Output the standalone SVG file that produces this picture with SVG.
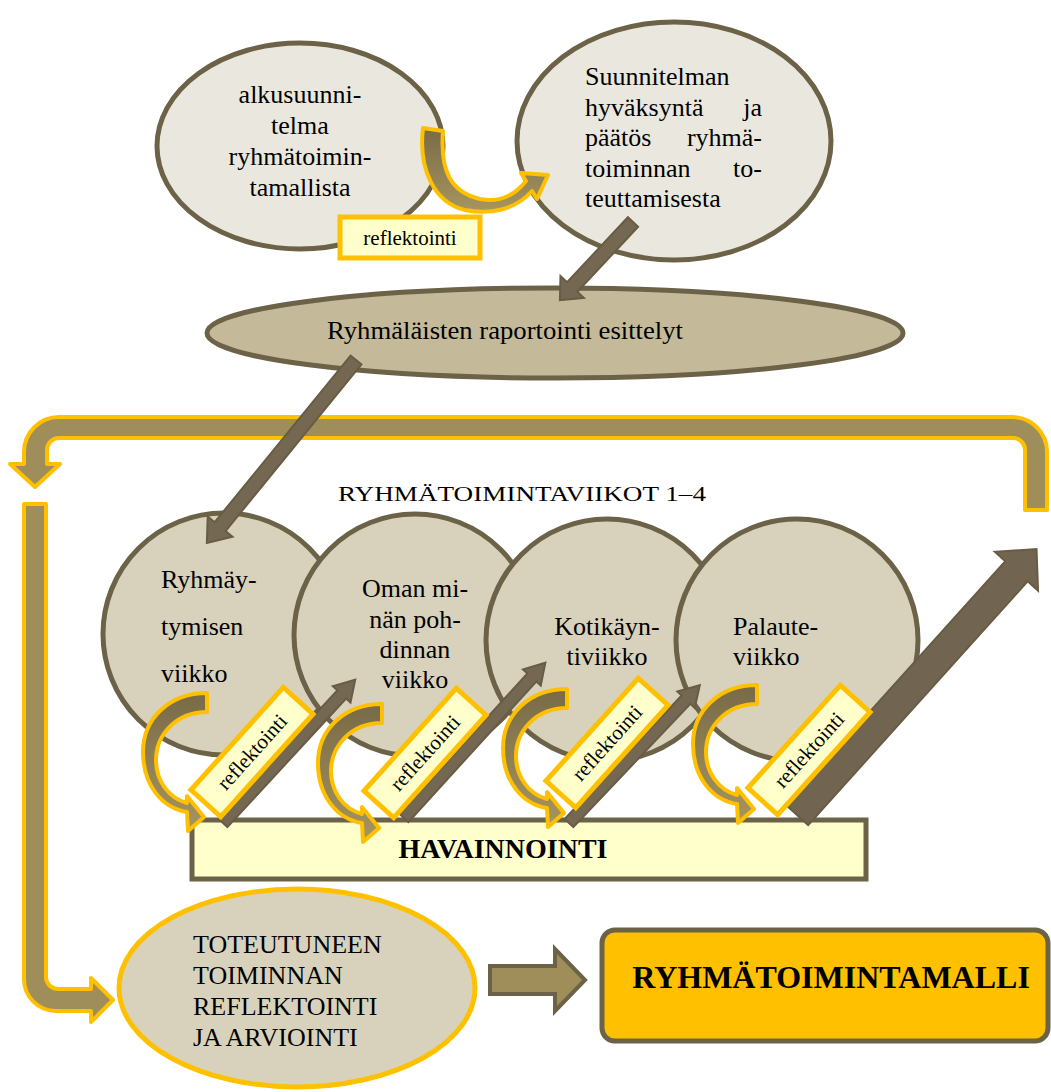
<svg xmlns="http://www.w3.org/2000/svg" width="1051" height="1092" viewBox="0 0 1051 1092" font-family="'Liberation Serif', 'DejaVu Serif', serif">
<defs>
<style>
text{font-family:'Liberation Serif','DejaVu Serif',serif;fill:#000}
.t26{font-size:26px}
.lab{font-size:21px}
.light{fill:#eae8de;stroke:#6b6248;stroke-width:5}
.tan{fill:#c4b998;stroke:#6b6248;stroke-width:5}
.circ{fill:#d8d2bc;stroke:#6b6248;stroke-width:5}
.label{fill:#ffffcc;stroke:#ffc000;stroke-width:5}
.band{fill:#9f8e5a;stroke:#ffc000;stroke-width:4;stroke-linejoin:round}
.dark{fill:#756853;stroke:#685c44;stroke-width:2}
.curv{fill:url(#cg);stroke:#ffc000;stroke-width:4;stroke-linejoin:round}
</style>
<linearGradient id="cg" x1="0" y1="0" x2="0" y2="1">
<stop offset="0" stop-color="#786a47"/>
<stop offset="1" stop-color="#a6955f"/>
</linearGradient>
<path id="curvArrow" d="M 207,693 C 170,693 143,718 143,752 C 143,785 162,808 187,812 L 188,831 L 204,817 L 187,796 L 187,803 C 168,798 156,780 156,760 C 156,735 176,712 207,712 Z"/>
</defs>

<g id="node-alkusuunnitelma">
<ellipse class="light" cx="300" cy="146" rx="143" ry="103"/>
<text class="t26" font-family="Liberation Serif" text-anchor="middle"><tspan x="300" y="103">alkusuunni-</tspan><tspan x="300" y="134">telma</tspan><tspan x="300" y="165">ryhmätoimin-</tspan><tspan x="300" y="196">tamallista</tspan></text>
</g>

<g id="node-suunnitelman">
<ellipse class="light" cx="674" cy="141" rx="157" ry="119"/>
<text class="t26" font-family="Liberation Serif"><tspan x="585" y="85">Suunnitelman</tspan><tspan x="585" y="116">hyväksyntä</tspan><tspan x="585" y="146">päätös</tspan><tspan x="585" y="177">toiminnan</tspan><tspan x="585" y="207">teuttamisesta</tspan></text>
<text class="t26" font-family="Liberation Serif" text-anchor="end"><tspan x="762" y="116">ja</tspan><tspan x="762" y="146">ryhmä-</tspan><tspan x="762" y="177">to-</tspan></text>
</g>

<g id="node-reflektointi-top">
<rect class="label" x="340" y="217" width="140" height="41"/>
<text class="lab" font-family="Liberation Serif" x="410" y="245" text-anchor="middle">reflektointi</text>
</g>

<g id="node-raportointi">
<ellipse class="tan" cx="555" cy="333" rx="348" ry="45"/>
<text class="t26" font-family="Liberation Serif" x="327" y="339" textLength="356" lengthAdjust="spacingAndGlyphs">Ryhmäläisten raportointi esittelyt</text>
</g>

<g id="node-circle1">
<circle class="circ" cx="224" cy="634" r="121"/>
<text class="t26" font-family="Liberation Serif"><tspan x="161" y="588">Ryhmäy-</tspan><tspan x="161" y="635">tymisen</tspan><tspan x="161" y="682">viikko</tspan></text>
</g>
<g id="node-circle2">
<circle class="circ" cx="415" cy="635" r="121"/>
<text class="t26" font-family="Liberation Serif" text-anchor="middle"><tspan x="415" y="597">Oman mi-</tspan><tspan x="415" y="628">nän poh-</tspan><tspan x="415" y="658">dinnan</tspan><tspan x="415" y="688">viikko</tspan></text>
</g>
<g id="node-circle3">
<circle class="circ" cx="607" cy="640" r="121"/>
<text class="t26" font-family="Liberation Serif" text-anchor="middle"><tspan x="607" y="635">Kotikäyn-</tspan><tspan x="607" y="665">tiviikko</tspan></text>
</g>
<g id="node-circle4">
<circle class="circ" cx="797" cy="640" r="121"/>
<text class="t26" font-family="Liberation Serif"><tspan x="733" y="635">Palaute-</tspan><tspan x="733" y="665">viikko</tspan></text>
</g>

<g id="node-havainnointi">
<rect x="192" y="820" width="674" height="59" fill="#ffffcc" stroke="#6b6248" stroke-width="5"/>
<text font-family="Liberation Serif" x="503" y="858" text-anchor="middle" font-size="28" font-weight="bold">HAVAINNOINTI</text>
</g>

<g id="node-viikot-title">
<text font-family="Liberation Serif" x="338" y="501" font-size="22" textLength="368" lengthAdjust="spacingAndGlyphs">RYHMÄTOIMINTAVIIKOT 1–4</text>
</g>

<g id="connectors">
<path class="curv" d="M 423,128 L 443,131 C 440,170 450,192 480,199 C 500,203 515,195 526,181 L 521,173 L 548,175 L 537,199 L 532,191 C 515,210 490,215 465,210 C 435,203 418,170 423,128 Z"/>
<polygon class="dark" transform="translate(633,222) rotate(133.1)" points="0,-7 89,-7 89,-16 107,0 89,16 89,7 0,7"/>
<path class="band" d="M 1047,510 L 1047,452 A 35,35 0 0 0 1012,417 L 59,417 A 35,35 0 0 0 24,452 L 24,464 L 10,464 L 35,487 L 60,464 L 47,464 L 47,450 A 12,12 0 0 1 59,438 L 1013,438 A 12,12 0 0 1 1025,450 L 1025,510 Z"/>
<polygon class="dark" transform="translate(356,360) rotate(129.2)" points="0,-7 215,-7 215,-16 236,0 215,16 215,7 0,7"/>
<polygon class="dark" transform="translate(223,823) rotate(-47.3)" points="0,-6 175,-6 175,-12 195,0 175,12 175,6 0,6"/>
<polygon class="dark" transform="translate(404,818) rotate(-47.7)" points="0,-6 190,-6 190,-12 210,0 190,12 190,6 0,6"/>
<polygon class="dark" transform="translate(569,823) rotate(-46.5)" points="0,-6 170,-6 170,-12 190,0 170,12 170,6 0,6"/>
<polygon fill="#716552" stroke="#685c44" stroke-width="2" transform="translate(797,815) rotate(-48)" points="0,-15 328,-15 328,-29 358,0 328,29 328,15 0,15"/>
<use href="#curvArrow" class="curv"/>
<use href="#curvArrow" class="curv" transform="translate(175,11)"/>
<use href="#curvArrow" class="curv" transform="translate(360,-4)"/>
<use href="#curvArrow" class="curv" transform="translate(550,-8)"/>
<path class="band" d="M 24,504 L 24,979 A 32,32 0 0 0 56,1011 L 91,1011 L 91,1022 L 113,1000 L 91,978 L 91,989 L 58,989 A 12,12 0 0 1 46,977 L 46,504 Z"/>
<polygon fill="#9f8e5a" stroke="#6b6248" stroke-width="4" points="490,966 555,966 555,949 585,980 555,1011 555,994 490,994"/>
</g>

<g id="node-reflektointi-1" transform="translate(252,752) rotate(-48)">
<rect class="label" x="-69" y="-20" width="138" height="40"/>
<text class="lab" font-family="Liberation Serif" x="0" y="7" text-anchor="middle">reflektointi</text>
</g>
<g id="node-reflektointi-2" transform="translate(425,753) rotate(-48)">
<rect class="label" x="-69" y="-20" width="138" height="40"/>
<text class="lab" font-family="Liberation Serif" x="0" y="7" text-anchor="middle">reflektointi</text>
</g>
<g id="node-reflektointi-3" transform="translate(607,743) rotate(-48)">
<rect class="label" x="-69" y="-20" width="138" height="40"/>
<text class="lab" font-family="Liberation Serif" x="0" y="7" text-anchor="middle">reflektointi</text>
</g>
<g id="node-reflektointi-4" transform="translate(809,750) rotate(-48)">
<rect class="label" x="-69" y="-20" width="138" height="40"/>
<text class="lab" font-family="Liberation Serif" x="0" y="7" text-anchor="middle">reflektointi</text>
</g>

<g id="node-toteutuneen">
<ellipse cx="297" cy="988" rx="178" ry="99" fill="#d8d2bc" stroke="#ffc000" stroke-width="5"/>
<text class="t26" font-family="Liberation Serif"><tspan x="193" y="953">TOTEUTUNEEN</tspan><tspan x="193" y="984">TOIMINNAN</tspan><tspan x="193" y="1015">REFLEKTOINTI</tspan><tspan x="193" y="1046">JA ARVIOINTI</tspan></text>
</g>

<g id="node-ryhmatoimintamalli">
<rect x="602" y="930" width="446" height="111" rx="13" fill="#ffc000" stroke="#6b6248" stroke-width="5"/>
<text font-family="Liberation Serif" x="831" y="988" text-anchor="middle" font-size="32" font-weight="bold">RYHMÄTOIMINTAMALLI</text>
</g>
</svg>
